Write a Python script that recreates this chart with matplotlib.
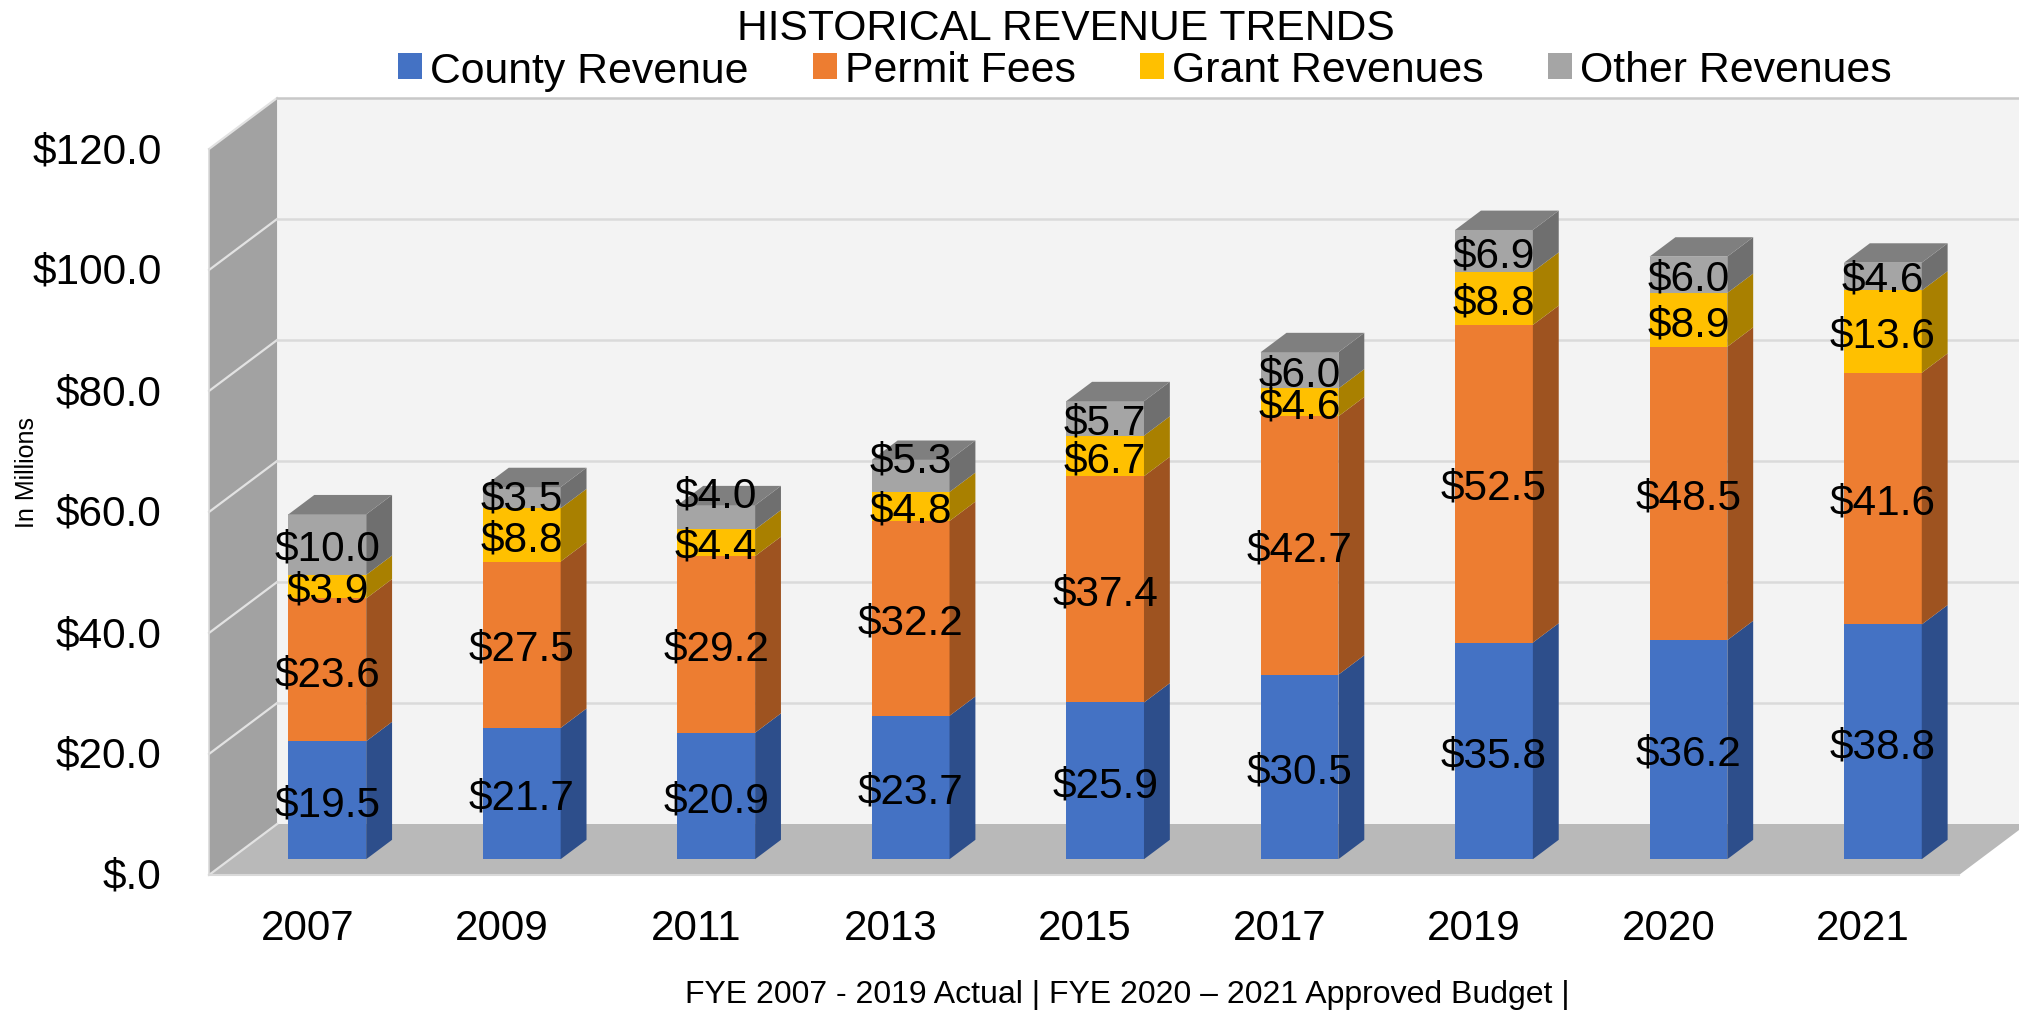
import numpy as np
import matplotlib.pyplot as plt
from matplotlib.patches import Patch
from matplotlib.transforms import ScaledTranslation

plt.rcParams["font.family"] = ["Liberation Sans", "DejaVu Sans"]

# === Data ===
years = ["2007", "2009", "2011", "2013", "2015", "2017", "2019", "2020", "2021"]
county = [19.5, 21.7, 20.9, 23.7, 25.9, 30.5, 35.8, 36.2, 38.8]
permit = [23.6, 27.5, 29.2, 32.2, 37.4, 42.7, 52.5, 48.5, 41.6]
grant = [3.9, 8.8, 4.4, 4.8, 6.7, 4.6, 8.8, 8.9, 13.6]
other = [10.0, 3.5, 4.0, 5.3, 5.7, 6.0, 6.9, 6.0, 4.6]
y_ticks = [0, 20, 40, 60, 80, 100, 120]
y_tick_labels = ["$.0", "$20.0", "$40.0", "$60.0", "$80.0", "$100.0", "$120.0"]

series_names = ["County Revenue", "Permit Fees", "Grant Revenues", "Other Revenues"]
series_values = [county, permit, grant, other]
front_colors = ["#4472C4", "#ED7D31", "#FFC000", "#A5A5A5"]
side_colors = ["#2D4E8B", "#9E5320", "#A98000", "#6F6F6F"]
top_color = "#7F7F7F"

# labels the original chart moved by hand: (series, year) -> lift in value units
label_lift = {(3, 1): 0.6, (3, 2): 4.25, (3, 3): 3.2, (3, 8): 0.2}

# === Fake 3D settings, in data units ===
depth_x = 0.35
depth_y = 8.43
bar_width = 0.40
gap_frac = 0.31
bar_frac = 0.38

fig = plt.figure(figsize=(20.19, 10.12), dpi=100)
ax = fig.add_axes([209 / 2019, 136 / 1012, 1750 / 2019, 726 / 1012])
ax.set_xlim(-0.5, 8.5)
ax.set_ylim(0, 120)
ax.patch.set_visible(False)
for s in ax.spines.values():
    s.set_visible(False)

# === Walls and floor ===
x0, x1 = -0.5, 8.5
ymax = y_ticks[-1]
ax.fill([x0 + depth_x, x1 + depth_x, x1 + depth_x, x0 + depth_x],
        [depth_y, depth_y, ymax + depth_y, ymax + depth_y],
        color="#F3F3F3", lw=0, clip_on=False, zorder=1)
ax.fill([x0, x0 + depth_x, x0 + depth_x, x0],
        [0, depth_y, ymax + depth_y, ymax],
        color="#A2A2A2", lw=0, clip_on=False, zorder=1)
ax.fill([x0, x1, x1 + depth_x, x0 + depth_x],
        [0, 0, depth_y, depth_y],
        color="#B9B9B9", lw=0, clip_on=False, zorder=1)

for v in y_ticks:
    ax.plot([x0, x0 + depth_x], [v, v + depth_y], color="#E2E2E2", lw=1.6,
            clip_on=False, zorder=2)
    if v > 0:
        line_color = "#C8C8C8" if v == ymax else "#DADADA"
        ax.plot([x0 + depth_x, x1 + depth_x], [v + depth_y, v + depth_y],
                color=line_color, lw=1.8, clip_on=False, zorder=2)
ax.plot([x0, x0], [0, ymax], color="#D9D9D9", lw=1.2, clip_on=False, zorder=2)
ax.plot([x0, x1], [0, 0], color="#D9D9D9", lw=1.5, clip_on=False, zorder=2)

# === Stacked bars ===
x = np.arange(len(years))
base_shift_x = gap_frac * depth_x
base_shift_y = gap_frac * depth_y
dx = bar_frac * depth_x
dy = bar_frac * depth_y

bottom = np.zeros(len(years))
for vals, front, side in zip(series_values, front_colors, side_colors):
    vals = np.array(vals)
    ax.bar(x + base_shift_x, vals, width=bar_width, bottom=bottom + base_shift_y,
           color=front, lw=0, clip_on=False, zorder=3)
    for i in range(len(years)):
        xr = x[i] + base_shift_x + bar_width / 2
        y_lo = bottom[i] + base_shift_y
        y_hi = y_lo + vals[i]
        ax.fill([xr, xr + dx, xr + dx, xr], [y_lo, y_lo + dy, y_hi + dy, y_hi],
                color=side, lw=0, clip_on=False, zorder=3)
    bottom = bottom + vals

# top faces
for i in range(len(years)):
    xl = x[i] + base_shift_x - bar_width / 2
    y_top = bottom[i] + base_shift_y
    ax.fill([xl, xl + bar_width, xl + bar_width + dx, xl + dx],
            [y_top, y_top, y_top + dy, y_top + dy],
            color=top_color, lw=0, clip_on=False, zorder=3)

# === Data labels ===
bottom = np.zeros(len(years))
for s_idx, vals in enumerate(series_values):
    for i, v in enumerate(vals):
        lift = label_lift.get((s_idx, i), 0) + 0.05
        ax.text(x[i] + base_shift_x, bottom[i] + v / 2 + base_shift_y + lift, f"${v:.1f}",
                ha="center", va="center_baseline", fontsize=30.5, color="black", zorder=5)
    bottom = bottom + np.array(vals)

# === Axes text ===
ax.set_xticks(x)
ax.set_xticklabels(years, fontsize=30.3)
ax.set_yticks(y_ticks)
ax.set_yticklabels(y_tick_labels, fontsize=30.5)
ax.tick_params(axis="x", length=0, pad=24)
ax.tick_params(axis="y", length=0, pad=34)

# y labels sit a touch high in the original
up = ScaledTranslation(0, 2.5 / 100, fig.dpi_scale_trans)
for lab in ax.get_yticklabels():
    lab.set_transform(lab.get_transform() + up)
right = ScaledTranslation(1.0 / 100, 0, fig.dpi_scale_trans)
for lab in ax.get_xticklabels():
    lab.set_transform(lab.get_transform() + right)

fig.text(1066 / 2019, 1 - 28.5 / 1012, "HISTORICAL REVENUE TRENDS", fontsize=30.7,
         ha="center", va="center")
fig.text(27 / 2019, 1 - 473 / 1012, "In Millions", fontsize=18, rotation=90,
         ha="center", va="center")
fig.text(1127 / 2019, 1 - 995.5 / 1012,
         "FYE 2007 - 2019 Actual | FYE 2020 \u2013 2021 Approved Budget |",
         fontsize=23, ha="center", va="center")

handles = [Patch(color=c, lw=0) for c in front_colors]
fig.legend(handles, series_names, loc="center", ncol=4, frameon=False,
           bbox_to_anchor=(1145 / 2019, 1 - 71.5 / 1012), fontsize=30.8,
           handlelength=0.55, handleheight=0.55, handletextpad=0.2,
           columnspacing=1.5, borderpad=0, borderaxespad=0)

plt.savefig("out.png", dpi=100)
